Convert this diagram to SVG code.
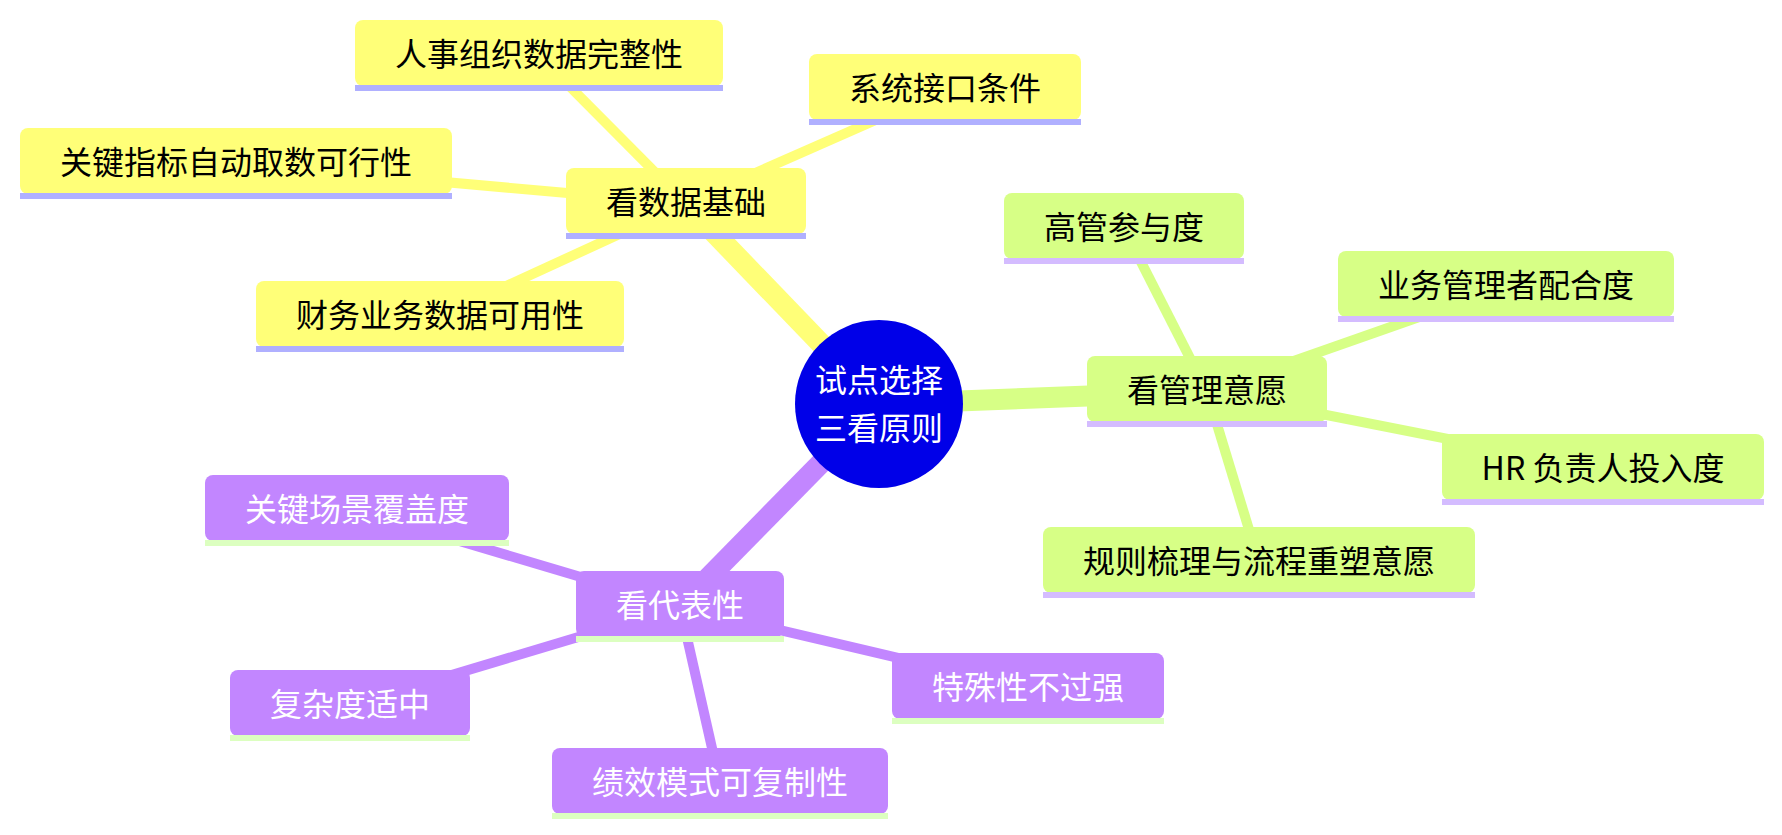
<svg xmlns="http://www.w3.org/2000/svg" width="1782" height="835" viewBox="0 0 1782 835">
<style>
  text { font-family: "Noto Sans CJK SC", "Noto Sans", sans-serif; font-size: 32px; text-anchor: middle; }
  .dk { fill: #000000; }
  .lt { fill: #ffffff; }
  .f1 { fill: #ffff78; } .u1 { fill: #b0b0ff; }
  .f2 { fill: #d7ff86; } .u2 { fill: #d4bcff; }
  .f3 { fill: #c286ff; } .u3 { fill: #dcffc0; }
  .e { fill: none; stroke-linecap: butt; }
  .e1 { stroke: #ffff78; } .e2 { stroke: #d7ff86; } .e3 { stroke: #c286ff; }
  .main { stroke-width: 21; }
  .leaf { stroke-width: 10; }
</style>
<rect width="1782" height="835" fill="#ffffff"/>
<g id="connectors">
  <line class="e e1 main" x1="879" y1="404" x2="686" y2="203.5"/>
  <line class="e e1 leaf" x1="686" y1="203.5" x2="539" y2="55.5"/>
  <line class="e e1 leaf" x1="686" y1="203.5" x2="945" y2="89.5"/>
  <line class="e e1 leaf" x1="686" y1="203.5" x2="236" y2="163.5"/>
  <line class="e e1 leaf" x1="686" y1="203.5" x2="440" y2="316.5"/>
  <line class="e e2 main" x1="879" y1="404" x2="1207" y2="391.5"/>
  <line class="e e2 leaf" x1="1207" y1="391.5" x2="1124" y2="228.5"/>
  <line class="e e2 leaf" x1="1207" y1="391.5" x2="1506" y2="286.5"/>
  <line class="e e2 leaf" x1="1207" y1="391.5" x2="1603" y2="469.5"/>
  <line class="e e2 leaf" x1="1207" y1="391.5" x2="1259" y2="562.5"/>
  <line class="e e3 main" x1="879" y1="404" x2="680" y2="606.5"/>
  <line class="e e3 leaf" x1="680" y1="606.5" x2="357" y2="510.5"/>
  <line class="e e3 leaf" x1="680" y1="606.5" x2="350" y2="705.5"/>
  <line class="e e3 leaf" x1="680" y1="606.5" x2="1028" y2="688.5"/>
  <line class="e e3 leaf" x1="680" y1="606.5" x2="720" y2="783.5"/>
</g>
<g id="root">
  <circle cx="879" cy="404" r="84" fill="#0000e8"/>
  <text class="lt" x="879" y="391.5">试点选择</text>
  <text class="lt" x="879" y="440">三看原则</text>
</g>
<g id="n-data">
  <rect class="f1" x="566" y="168" width="240" height="66" rx="8"/>
  <rect class="u1" x="566" y="233" width="240" height="6"/>
  <text class="dk" x="686" y="214">看数据基础</text>
</g>
<g id="n-hr-org">
  <rect class="f1" x="355" y="20" width="368" height="66" rx="8"/>
  <rect class="u1" x="355" y="85" width="368" height="6"/>
  <text class="dk" x="539" y="66">人事组织数据完整性</text>
</g>
<g id="n-interface">
  <rect class="f1" x="809" y="54" width="272" height="66" rx="8"/>
  <rect class="u1" x="809" y="119" width="272" height="6"/>
  <text class="dk" x="945" y="100">系统接口条件</text>
</g>
<g id="n-kpi">
  <rect class="f1" x="20" y="128" width="432" height="66" rx="8"/>
  <rect class="u1" x="20" y="193" width="432" height="6"/>
  <text class="dk" x="236" y="174">关键指标自动取数可行性</text>
</g>
<g id="n-finance">
  <rect class="f1" x="256" y="281" width="368" height="66" rx="8"/>
  <rect class="u1" x="256" y="346" width="368" height="6"/>
  <text class="dk" x="440" y="327">财务业务数据可用性</text>
</g>
<g id="n-will">
  <rect class="f2" x="1087" y="356" width="240" height="66" rx="8"/>
  <rect class="u2" x="1087" y="421" width="240" height="6"/>
  <text class="dk" x="1207" y="402">看管理意愿</text>
</g>
<g id="n-exec">
  <rect class="f2" x="1004" y="193" width="240" height="66" rx="8"/>
  <rect class="u2" x="1004" y="258" width="240" height="6"/>
  <text class="dk" x="1124" y="239">高管参与度</text>
</g>
<g id="n-bizmgr">
  <rect class="f2" x="1338" y="251" width="336" height="66" rx="8"/>
  <rect class="u2" x="1338" y="316" width="336" height="6"/>
  <text class="dk" x="1506" y="297">业务管理者配合度</text>
</g>
<g id="n-hrlead">
  <rect class="f2" x="1442" y="434" width="322" height="66" rx="8"/>
  <rect class="u2" x="1442" y="499" width="322" height="6"/>
  <text class="dk" x="1603" y="480">HR 负责人投入度</text>
</g>
<g id="n-rules">
  <rect class="f2" x="1043" y="527" width="432" height="66" rx="8"/>
  <rect class="u2" x="1043" y="592" width="432" height="6"/>
  <text class="dk" x="1259" y="573">规则梳理与流程重塑意愿</text>
</g>
<g id="n-repr">
  <rect class="f3" x="576" y="571" width="208" height="66" rx="8"/>
  <rect class="u3" x="576" y="636" width="208" height="6"/>
  <text class="lt" x="680" y="617">看代表性</text>
</g>
<g id="n-scene">
  <rect class="f3" x="205" y="475" width="304" height="66" rx="8"/>
  <rect class="u3" x="205" y="540" width="304" height="6"/>
  <text class="lt" x="357" y="521">关键场景覆盖度</text>
</g>
<g id="n-complex">
  <rect class="f3" x="230" y="670" width="240" height="66" rx="8"/>
  <rect class="u3" x="230" y="735" width="240" height="6"/>
  <text class="lt" x="350" y="716">复杂度适中</text>
</g>
<g id="n-special">
  <rect class="f3" x="892" y="653" width="272" height="66" rx="8"/>
  <rect class="u3" x="892" y="718" width="272" height="6"/>
  <text class="lt" x="1028" y="699">特殊性不过强</text>
</g>
<g id="n-perf">
  <rect class="f3" x="552" y="748" width="336" height="66" rx="8"/>
  <rect class="u3" x="552" y="813" width="336" height="6"/>
  <text class="lt" x="720" y="794">绩效模式可复制性</text>
</g>
</svg>
